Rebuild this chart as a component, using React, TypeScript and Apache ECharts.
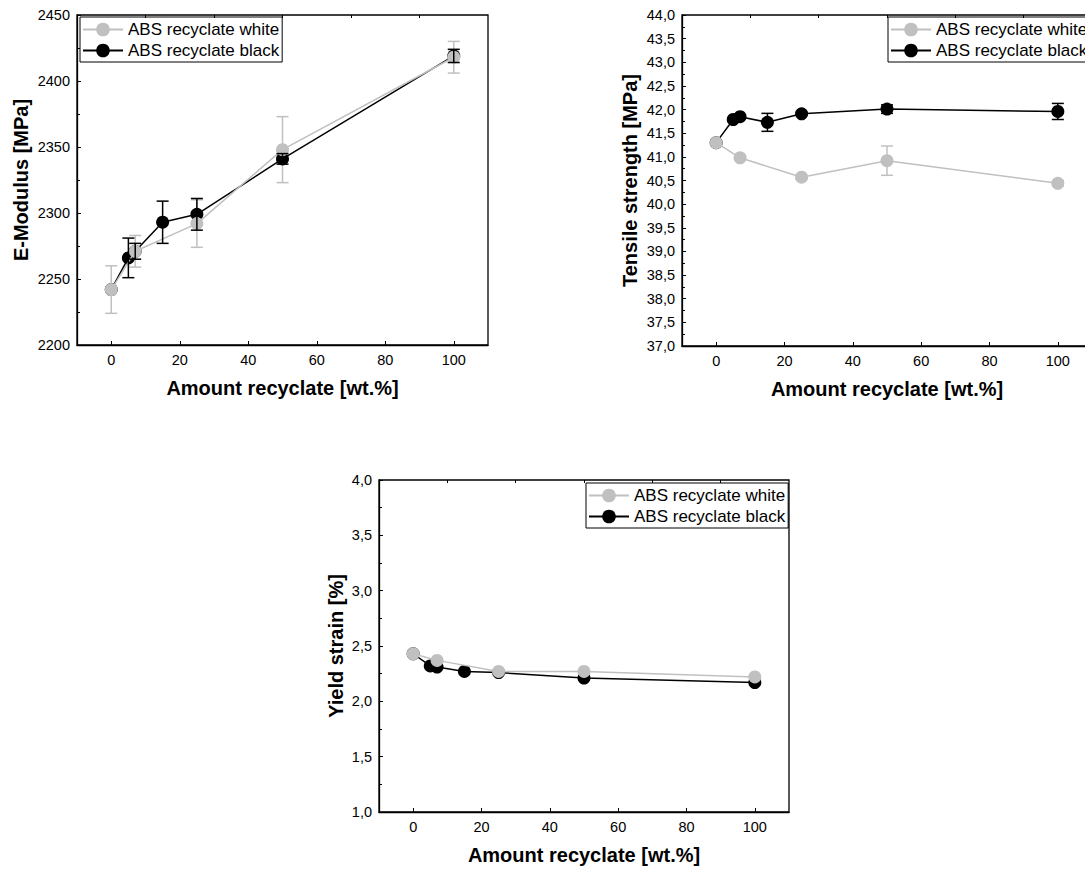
import React, { useEffect, useRef } from "react";
import * as echarts from "echarts";

// ---- data ----
const WHITE = "ABS recyclate white";
const BLACK = "ABS recyclate black";
const xWhite = [0, 7, 25, 50, 100];
const xBlack = [0, 5, 7, 15, 25, 50, 100];

const modWhite = [2242, 2271, 2292, 2348, 2418];
const modWhiteErr = [18, 12, 18, 25, 12];
const modBlack = [2242, 2266, 2271, 2293, 2299, 2341, 2419];
const modBlackErr = [0, 15, 6, 16, 12, 4, 5];

const tenWhite = [41.3, 40.98, 40.57, 40.92, 40.44];
const tenWhiteErr = [0.05, 0.04, 0.04, 0.31, 0.06];
const tenBlack = [41.3, 41.79, 41.85, 41.73, 41.91, 42.01, 41.96];
const tenBlackErr = [0, 0.04, 0.04, 0.19, 0.03, 0.09, 0.17];

const yieldWhite = [2.43, 2.37, 2.27, 2.27, 2.22];
const yieldBlack = [2.43, 2.32, 2.31, 2.27, 2.26, 2.21, 2.17];

const xMajorTicks = [0, 20, 40, 60, 80, 100];
const xMinorTicks = [10, 30, 50, 70, 90];

const FONT = "'Liberation Sans', Arial, sans-serif";
const GRAY = "#c0c0c0";
const BLK = "#000000";

const pairs = (xs: number[], ys: number[]) => xs.map((x, i) => [x, ys[i]]);
const errs = (xs: number[], ys: number[], es: number[]) =>
  xs.map((x, i) => [x, ys[i] - es[i], ys[i] + es[i]]).filter((_, i) => es[i] > 0);

function errSeries(name: string, gi: number, data: number[][], color: string, z: number) {
  return {
    type: "custom",
    name,
    xAxisIndex: gi,
    yAxisIndex: gi,
    z,
    silent: true,
    data,
    renderItem: (params: any, api: any) => {
      const x = api.value(0);
      const lo = api.coord([x, api.value(1)]);
      const hi = api.coord([x, api.value(2)]);
      const w = 6;
      const style = { stroke: color, lineWidth: 1.5 };
      return {
        type: "group",
        children: [
          { type: "line", shape: { x1: lo[0], y1: lo[1], x2: hi[0], y2: hi[1] }, style },
          { type: "line", shape: { x1: lo[0] - w, y1: lo[1], x2: lo[0] + w, y2: lo[1] }, style },
          { type: "line", shape: { x1: hi[0] - w, y1: hi[1], x2: hi[0] + w, y2: hi[1] }, style },
        ],
      };
    },
  };
}

function lineSeries(name: string, gi: number, data: number[][], color: string, z: number) {
  return {
    type: "line",
    name,
    xAxisIndex: gi,
    yAxisIndex: gi,
    z,
    data,
    symbol: "circle",
    symbolSize: 13,
    showSymbol: true,
    lineStyle: { color, width: 1.5 },
    itemStyle: { color },
    emphasis: { disabled: true },
  };
}

const commaFmt = (v: number) => v.toFixed(1).replace(".", ",");
const intFmt = (v: number) => String(v);

export default function App() {
  const ref = useRef<HTMLDivElement>(null);
  useEffect(() => {
    if (!ref.current) return;
    const chart = echarts.init(ref.current, undefined, { renderer: "svg" });

    const grids = [
      { left: 77, top: 15, width: 411, height: 330 },
      { left: 682, top: 15, width: 410, height: 331 },
      { left: 379, top: 480, width: 410, height: 332 },
    ];

    const xMain = grids.map((_, gi) => ({
      type: "value",
      gridIndex: gi,
      min: -10,
      max: 110,
      name: "Amount recyclate [wt.%]",
      nameLocation: "middle",
      nameGap: 33,
      nameTextStyle: { fontFamily: FONT, fontWeight: "bold", fontSize: 20, color: "#000" },
      axisLine: { show: true, onZero: false, lineStyle: { color: "#000", width: 1.3 } },
      axisTick: { show: true, inside: true, length: 4, customValues: xMajorTicks, lineStyle: { color: "#000", width: 1 } },
      axisLabel: { show: true, customValues: xMajorTicks, fontFamily: FONT, fontSize: 14.5, color: "#000", margin: 7 },
      splitLine: { show: false },
    }));
    const xMinor = grids.map((_, gi) => ({
      type: "value",
      gridIndex: gi,
      min: -10,
      max: 110,
      axisLine: { show: false },
      axisTick: { show: true, inside: true, length: 3, customValues: xMinorTicks, lineStyle: { color: "#000", width: 1 } },
      axisLabel: { show: false },
      splitLine: { show: false },
    }));

    const yBase = (gi: number, name: string, min: number, max: number, interval: number, gap: number, fmt: any) => ({
      type: "value",
      gridIndex: gi,
      min,
      max,
      interval,
      name,
      nameLocation: "middle",
      nameGap: gap,
      nameTextStyle: { fontFamily: FONT, fontWeight: "bold", fontSize: 20, color: "#000" },
      axisLine: { show: true, onZero: false, lineStyle: { color: "#000", width: 1.3 } },
      axisTick: { show: true, inside: true, length: 4, lineStyle: { color: "#000", width: 1 } },
      minorTick: { show: true, splitNumber: 2, length: 3, lineStyle: { color: "#000", width: 1 } },
      axisLabel: { fontFamily: FONT, fontSize: 14.5, color: "#000", margin: 7, formatter: fmt },
      splitLine: { show: false },
      minorSplitLine: { show: false },
    });

    const legendBase = (left: number, top: number) => ({
      show: true,
      orient: "vertical",
      left,
      top,
      data: [WHITE, BLACK],
      itemWidth: 40,
      itemHeight: 17,
      itemGap: 4,
      padding: [4, 3, 3, 2],
      borderColor: "#000",
      borderWidth: 1,
      borderRadius: 0,
      selectedMode: false,
      textStyle: { fontFamily: FONT, fontSize: 17, color: "#000" },
    });

    const option: any = {
      animation: false,
      backgroundColor: "#ffffff",
      grid: grids.map((g) => ({ ...g, show: true, borderColor: "#000", borderWidth: 1.3, backgroundColor: "transparent" })),
      xAxis: [...xMain, ...xMinor],
      yAxis: [
        yBase(0, "E-Modulus [MPa]", 2200, 2450, 50, 46, intFmt),
        yBase(1, "Tensile strength [MPa]", 37, 44, 0.5, 42, commaFmt),
        yBase(2, "Yield strain [%]", 1, 4, 0.5, 33, commaFmt),
      ],
      legend: [legendBase(80, 17), legendBase(888, 17), legendBase(586, 483)],
      series: [
        // chart 1
        errSeries("err-w-1", 0, errs(xWhite, modWhite, modWhiteErr), GRAY, 2),
        lineSeries(BLACK, 0, pairs(xBlack, modBlack), BLK, 3),
        lineSeries(WHITE, 0, pairs(xWhite, modWhite), GRAY, 4),
        errSeries("err-b-1", 0, errs(xBlack, modBlack, modBlackErr), BLK, 5),
        // chart 2
        errSeries("err-w-2", 1, errs(xWhite, tenWhite, tenWhiteErr), GRAY, 2),
        lineSeries(BLACK, 1, pairs(xBlack, tenBlack), BLK, 3),
        lineSeries(WHITE, 1, pairs(xWhite, tenWhite), GRAY, 4),
        errSeries("err-b-2", 1, errs(xBlack, tenBlack, tenBlackErr), BLK, 5),
        // chart 3
        lineSeries(BLACK, 2, pairs(xBlack, yieldBlack), BLK, 3),
        lineSeries(WHITE, 2, pairs(xWhite, yieldWhite), GRAY, 4),
      ],
    };
    chart.setOption(option);
    return () => chart.dispose();
  }, []);
  return (
    <div style={{ position: "fixed", left: 0, top: 0, width: 1085, height: 869, background: "#fff", overflow: "hidden" }}>
      <div ref={ref} style={{ width: 1100, height: 869 }} />
    </div>
  );
}
